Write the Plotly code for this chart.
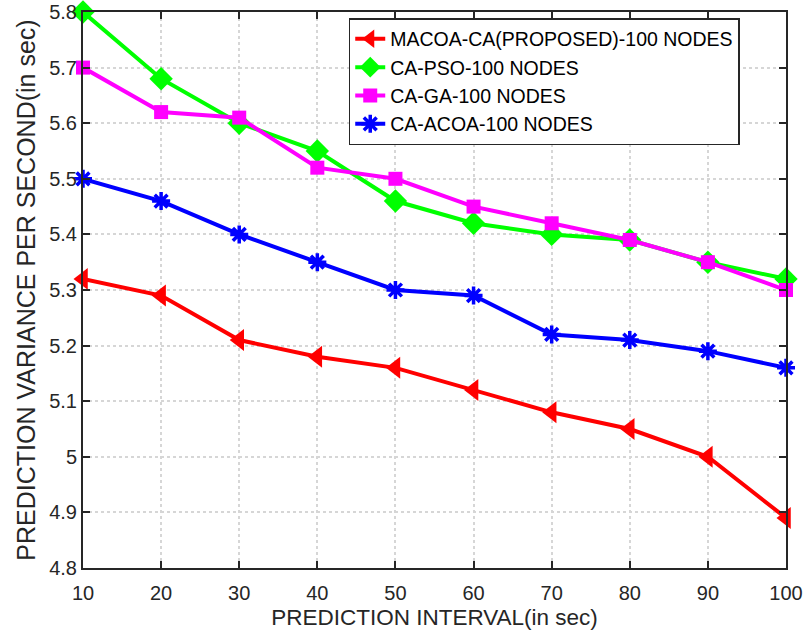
import plotly.graph_objects as go

x_vals = [10, 20, 30, 40, 50, 60, 70, 80, 90, 100]
macoa = [5.32, 5.29, 5.21, 5.18, 5.16, 5.12, 5.08, 5.05, 5.00, 4.89]
pso = [5.80, 5.68, 5.60, 5.55, 5.46, 5.42, 5.40, 5.39, 5.35, 5.32]
ga = [5.70, 5.62, 5.61, 5.52, 5.50, 5.45, 5.42, 5.39, 5.35, 5.30]
acoa = [5.50, 5.46, 5.40, 5.35, 5.30, 5.29, 5.22, 5.21, 5.19, 5.16]
names = ["MACOA-CA(PROPOSED)-100 NODES", "CA-PSO-100 NODES", "CA-GA-100 NODES", "CA-ACOA-100 NODES"]
x_ticks = [10, 20, 30, 40, 50, 60, 70, 80, 90, 100]
y_ticks = [4.8, 4.9, 5.0, 5.1, 5.2, 5.3, 5.4, 5.5, 5.6, 5.7, 5.8]

FONT = "Liberation Sans, Arial"
fig = go.Figure()
specs = [
    (macoa, "#ff0000", "triangle-left", 19, 0),
    (pso, "#00ff00", "diamond", 18, 0),
    (ga, "#ff00ff", "square", 14, 0),
    (acoa, "#0000ff", "asterisk-open", 15, 3.5),
]
for i, ((vals, col, sym, sz, lw), nm) in enumerate(zip(specs, names)):
    fig.add_trace(go.Scatter(
        x=x_vals, y=vals, name=nm, mode="lines+markers", legendgroup=f"g{i}",
        line=dict(color=col, width=4),
        marker=dict(symbol=sym, size=sz, color=col, line=dict(color=col, width=lw)),
        cliponaxis=False,
    ))

axis_common = dict(
    showline=True, linecolor="#262626", linewidth=2, mirror="ticks",
    ticks="inside", ticklen=7, tickwidth=2, tickcolor="#262626",
    showgrid=True, gridcolor="#d6d6d6", gridwidth=2, griddash="dot",
    zeroline=False,
    tickfont=dict(family=FONT, size=20, color="#262626"),
)
fig.update_xaxes(range=[10, 100], tickvals=x_ticks, ticklabeloverflow="allow",
                 ticklabelstandoff=6, **axis_common,
                 title=dict(text="PREDICTION INTERVAL(in sec)", standoff=6,
                            font=dict(family=FONT, size=22.5, color="#262626")))
fig.update_yaxes(range=[4.8, 5.8], tickvals=y_ticks, **axis_common,
                 title=dict(text="PREDICTION VARIANCE PER SECOND(in sec)", standoff=6,
                            font=dict(family=FONT, size=25, color="#262626")))

fig.update_layout(
    width=804, height=643,
    margin=dict(l=83, r=18, t=12, b=75, autoexpand=False),
    plot_bgcolor="white", paper_bgcolor="white",
    legend=dict(x=0.378, y=0.989, xanchor="left", yanchor="top",
                bordercolor="#262626", borderwidth=1.5, bgcolor="white",
                font=dict(family=FONT, size=19.5, color="#000000"),
                tracegroupgap=0, entrywidth=426),
    showlegend=True,
)
fig.write_html("out.html")
